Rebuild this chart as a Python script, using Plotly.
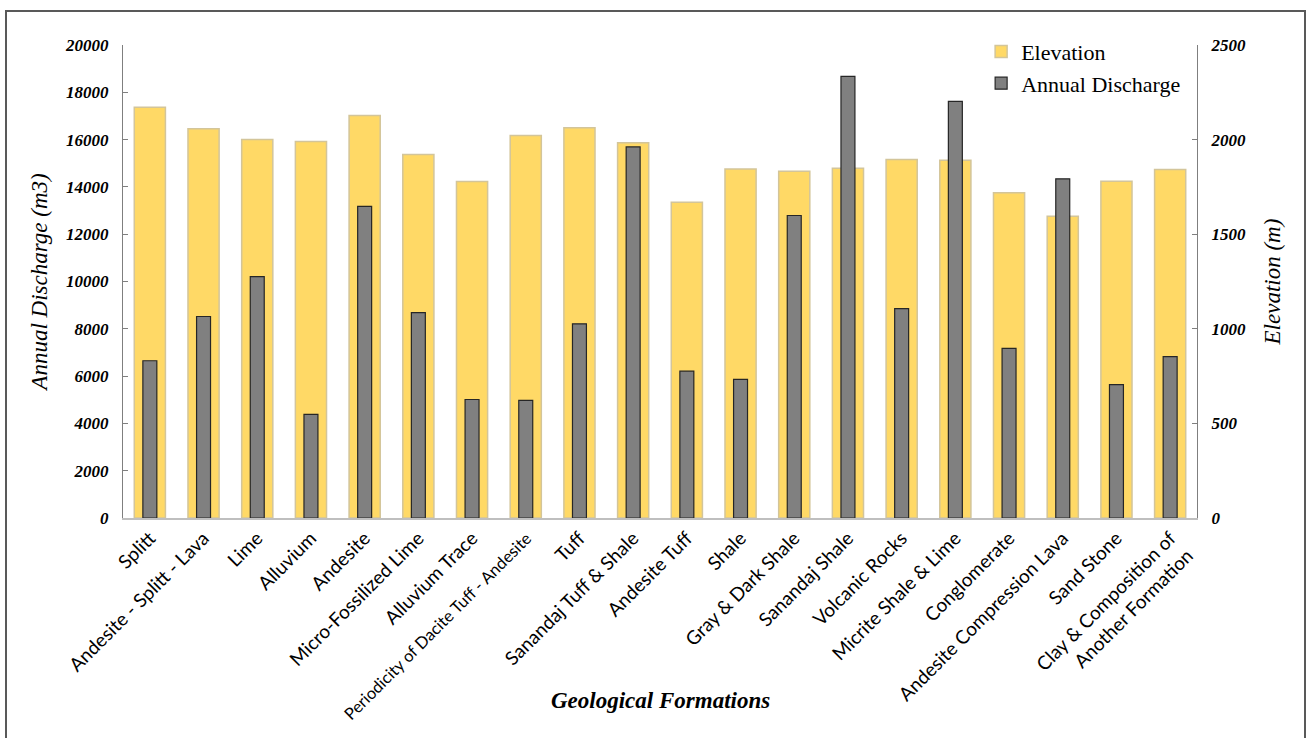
import plotly.graph_objects as go

formations = [
    "Splitt", "Andesite - Splitt - Lava", "Lime", "Alluvium", "Andesite",
    "Micro-Fossilized Lime", "Alluvium Trace", "Periodicity of Dacite Tuff - Andesite",
    "Tuff", "Sanandaj Tuff & Shale", "Andesite Tuff", "Shale", "Gray & Dark Shale",
    "Sanandaj Shale", "Volcanic Rocks", "Micrite Shale & Lime", "Conglomerate",
    "Andesite Compression Lava", "Sand Stone", "Clay & Composition of Another Formation",
]
tick_labels = [
    "Splitt", "Andesite - Splitt - Lava", "Lime", "Alluvium", "Andesite",
    "Micro-Fossilized Lime", "Alluvium Trace",
    "<span style='font-size:16.5px'>Periodicity of Dacite Tuff - Andesite</span>",
    "Tuff", "Sanandaj Tuff & Shale", "Andesite Tuff", "Shale", "Gray & Dark Shale",
    "Sanandaj Shale", "Volcanic Rocks", "Micrite Shale & Lime", "Conglomerate",
    "Andesite Compression Lava", "Sand Stone", "Clay & Composition of<br>Another Formation",
]
elevation_m = [2171, 2057, 2000, 1990, 2127, 1921, 1778, 2022, 2062, 1983,
               1669, 1845, 1833, 1849, 1895, 1891, 1719, 1595, 1780, 1842]
annual_discharge_m3 = [6650, 8520, 10210, 4380, 13180, 8680, 5010, 4970, 8210, 15690,
                       6210, 5860, 12790, 18670, 8850, 17620, 7170, 14340, 5640, 6820]

serif = "Liberation Serif"
sans = "Lato"

fig = go.Figure()
fig.add_trace(go.Bar(
    x=formations, y=elevation_m, name="Elevation", yaxis="y",
    width=0.58,
    marker=dict(color="#FFD966", line=dict(color="#D3C59A", width=1.5)),
))
fig.add_trace(go.Bar(
    x=formations, y=annual_discharge_m3, name="Annual Discharge", yaxis="y2",
    width=0.26,
    marker=dict(color="#808080", line=dict(color="#262626", width=1.2)),
))

tickfont_y = dict(family=serif, size=17, color="#000000", weight="bold", style="italic")

fig.update_layout(
    width=1307, height=738,
    margin=dict(l=123, r=110, t=45, b=220),
    paper_bgcolor="white", plot_bgcolor="white",
    barmode="overlay",
    showlegend=True,
    legend=dict(
        x=0.799, y=1.03, xanchor="left", yanchor="top",
        font=dict(family=serif, size=22, color="#000000"),
        bgcolor="rgba(0,0,0,0)", itemwidth=30, tracegroupgap=0,
    ),
    xaxis=dict(
        categoryorder="array", categoryarray=formations,
        tickmode="array", tickvals=formations, ticktext=tick_labels,
        tickangle=-45, tickfont=dict(family=sans, size=19, color="#000000"),
        showline=True, linecolor="#BFBFBF", linewidth=1.5,
        ticks="", showgrid=False, zeroline=False,
    ),
    yaxis=dict(
        side="right", range=[0, 2500], tickvals=[0, 500, 1000, 1500, 2000, 2500],
        tickformat="d",
        tickfont=tickfont_y, ticks="inside", ticklen=5, tickcolor="#7F7F7F",
        showline=True, linecolor="#7F7F7F", linewidth=1.2,
        showgrid=False, zeroline=False, ticklabelstandoff=10,
        title=dict(text="Elevation (m)", standoff=18,
                   font=dict(family=serif, size=23, color="#000000", style="italic")),
    ),
    yaxis2=dict(
        side="left", overlaying="y", range=[0, 20000],
        tickvals=[0, 2000, 4000, 6000, 8000, 10000, 12000, 14000, 16000, 18000, 20000],
        tickformat="d",
        tickfont=tickfont_y, ticks="inside", ticklen=5, tickcolor="#7F7F7F",
        showline=True, linecolor="#7F7F7F", linewidth=1.2,
        showgrid=False, zeroline=False, ticklabelstandoff=10,
        title=dict(text="Annual Discharge (m3)", standoff=10,
                   font=dict(family=serif, size=23, color="#000000", style="italic")),
    ),
    annotations=[dict(
        text="Geological Formations", xref="paper", yref="paper",
        x=0.5, y=-0.385, xanchor="center", yanchor="middle", showarrow=False,
        font=dict(family=serif, size=23, color="#000000", weight="bold", style="italic"),
    )],
    shapes=[dict(
        type="rect", xref="paper", yref="paper",
        x0=(6 - 123) / 1074, x1=(1305 - 123) / 1074,
        y0=-0.6, y1=(518 - 11) / 473,
        line=dict(color="#595959", width=2), fillcolor="rgba(0,0,0,0)", layer="below",
    )],
)

fig.write_html("out.html")
